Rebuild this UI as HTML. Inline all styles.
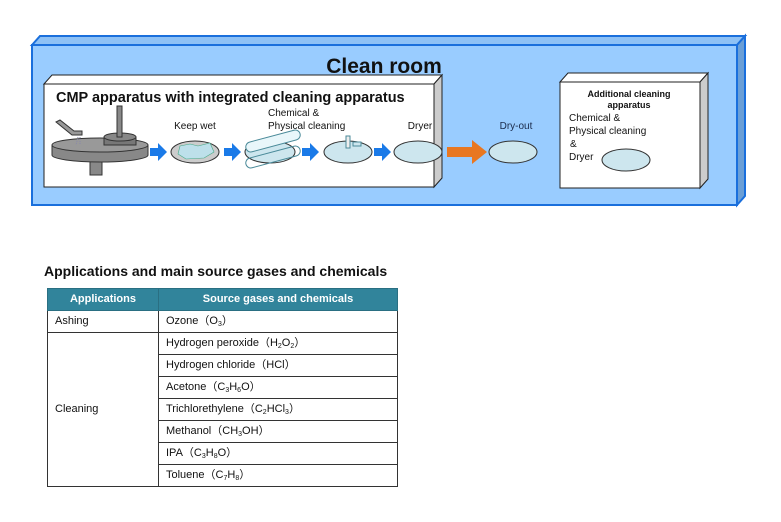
<!DOCTYPE html>
<html><head><meta charset="utf-8"><style>
body{margin:0;width:781px;height:522px;background:#fff;position:relative;font-family:"Liberation Sans",sans-serif;overflow:hidden}
svg{position:absolute;left:0;top:0}
table{position:absolute;left:47px;top:288px;border-collapse:collapse;font-size:11px;color:#111}
td,th{border:1px solid #333;height:21px;padding:0 0 0 7px;text-align:left;line-height:21px}
th{background:#31849b;color:#fff;text-align:center;font-size:11px;padding:0;border-color:#2a6f82}
sub{font-size:7px;vertical-align:-2px;line-height:0}
</style></head><body>
<svg width="781" height="522" viewBox="0 0 781 522" font-family="Liberation Sans, sans-serif">
<!-- outer clean room -->
<polygon points="32,45 40,36 745,36 737,45" fill="#8ec1f5" stroke="#1a6fdc" stroke-width="2"/>
<polygon points="737,45 745,36 745,196 737,205" fill="#6b9fd6" stroke="#1a6fdc" stroke-width="2"/>
<rect x="32" y="45" width="705" height="160" fill="#99ccff" stroke="#1a6fdc" stroke-width="2"/>
<text x="384" y="73" font-size="21" font-weight="bold" text-anchor="middle" fill="#111">Clean room</text>
<!-- CMP box -->
<polygon points="44,84 52,75 442,75 434,84" fill="#fff" stroke="#222"/>
<polygon points="434,84 442,75 442,178 434,187" fill="#ccc" stroke="#222"/>
<rect x="44" y="84" width="390" height="103" fill="#fff" stroke="#222"/>
<text x="56" y="102" font-size="14.5" font-weight="bold" fill="#111">CMP apparatus with integrated cleaning apparatus</text>
<!-- polisher -->
<rect x="90" y="155" width="12" height="20" fill="#888" stroke="#333"/>
<ellipse cx="100" cy="155" rx="48" ry="7" fill="#888" stroke="#333"/>
<rect x="52" y="145" width="96" height="10" fill="#888"/>
<line x1="52" y1="145" x2="52" y2="155" stroke="#333"/><line x1="148" y1="145" x2="148" y2="155" stroke="#333"/>
<ellipse cx="100" cy="145" rx="48" ry="7" fill="#999" stroke="#333"/>
<rect x="104" y="137" width="32" height="8" fill="#777" stroke="#333"/>
<ellipse cx="120" cy="137" rx="16" ry="4" fill="#888" stroke="#333"/>
<rect x="117" y="106" width="5" height="31" fill="#888" stroke="#333"/>
<polygon points="56,122 60,120 74,131 82,131 82,135 72,135" fill="#999" stroke="#333"/>
<line x1="78" y1="137" x2="76" y2="145" stroke="#88a" stroke-dasharray="1,1"/><line x1="80" y1="137" x2="80" y2="145" stroke="#88a" stroke-dasharray="1,1"/>
<!-- arrows -->
<g fill="#1a7ae8">
<polygon points="150,148 158,148 158,143 167,152 158,161 158,156 150,156"/>
<polygon points="224,148 232,148 232,143 241,152 232,161 232,156 224,156"/>
<polygon points="302,148 310,148 310,143 319,152 310,161 310,156 302,156"/>
<polygon points="374,148 382,148 382,143 391,152 382,161 382,156 374,156"/>
</g>
<polygon points="447,147 472,147 472,140 487,152 472,164 472,157 447,157" fill="#e87722"/>
<text x="195" y="129" font-size="10" text-anchor="middle" fill="#111">Keep wet</text>
<text x="268" y="116" font-size="10" fill="#111">Chemical &amp;</text>
<text x="268" y="129" font-size="10" fill="#111">Physical cleaning</text>
<text x="420" y="129" font-size="10" text-anchor="middle" fill="#111">Dryer</text>
<text x="516" y="129" font-size="10" text-anchor="middle" fill="#1a2a4a">Dry-out</text>
<ellipse cx="195" cy="152" rx="24" ry="11" fill="#ccc" stroke="#333"/>
<polygon points="180,146 190,144 198,146 210,143 214,152 204,158 186,159 178,154" fill="#bde0ea" stroke="#4a8" stroke-width=".6"/>
<ellipse cx="270" cy="152" rx="25" ry="11" fill="#cde6ee" stroke="#333"/>
<g fill="none" stroke="#4a8a99"><rect x="245" y="136" width="56" height="10" rx="5" transform="rotate(-15 273 141)" fill="#e8f6fa"/><rect x="245" y="152" width="56" height="10" rx="5" transform="rotate(-15 273 157)"/></g>
<ellipse cx="348" cy="152" rx="24" ry="11" fill="#cde6ee" stroke="#333"/>
<rect x="346" y="136" width="4" height="12" fill="#eee" stroke="#4a8a99"/><rect x="353" y="142" width="8" height="4" fill="#cde6ee" stroke="#4a8a99"/>
<ellipse cx="418" cy="152" rx="24" ry="11" fill="#cde6ee" stroke="#333"/>
<ellipse cx="513" cy="152" rx="24" ry="11" fill="#cde6ee" stroke="#333"/>
<!-- additional box -->
<polygon points="560,82 568,73 708,73 700,82" fill="#fff" stroke="#222"/>
<polygon points="700,82 708,73 708,179 700,188" fill="#ccc" stroke="#222"/>
<rect x="560" y="82" width="140" height="106" fill="#fff" stroke="#222"/>
<text x="629" y="97" font-size="9" font-weight="bold" text-anchor="middle" fill="#111">Additional cleaning</text>
<text x="629" y="108" font-size="9" font-weight="bold" text-anchor="middle" fill="#111">apparatus</text>
<text x="569" y="121" font-size="10" fill="#111">Chemical &amp;</text>
<text x="569" y="134" font-size="10" fill="#111">Physical cleaning</text>
<text x="570" y="147" font-size="10" fill="#111">&amp;</text>
<text x="569" y="160" font-size="10" fill="#111">Dryer</text>
<ellipse cx="626" cy="160" rx="24" ry="11" fill="#cde6ee" stroke="#333"/>
<text x="44" y="276" font-size="14" font-weight="bold" fill="#111">Applications and main source gases and chemicals</text>
</svg>
<table>
<tr><th style="width:110px">Applications</th><th style="width:238px">Source gases and chemicals</th></tr>
<tr><td>Ashing</td><td>Ozone（O<sub>3</sub>）</td></tr>
<tr><td rowspan="8">Cleaning</td><td>Hydrogen peroxide（H<sub>2</sub>O<sub>2</sub>）</td></tr>
<tr><td>Hydrogen chloride（HCl）</td></tr>
<tr><td>Acetone（C<sub>3</sub>H<sub>6</sub>O）</td></tr>
<tr><td>Trichlorethylene（C<sub>2</sub>HCl<sub>3</sub>）</td></tr>
<tr><td>Methanol（CH<sub>3</sub>OH）</td></tr>
<tr><td>IPA（C<sub>3</sub>H<sub>8</sub>O）</td></tr>
<tr><td>Toluene（C<sub>7</sub>H<sub>8</sub>）</td></tr>
</table>
</body></html>
